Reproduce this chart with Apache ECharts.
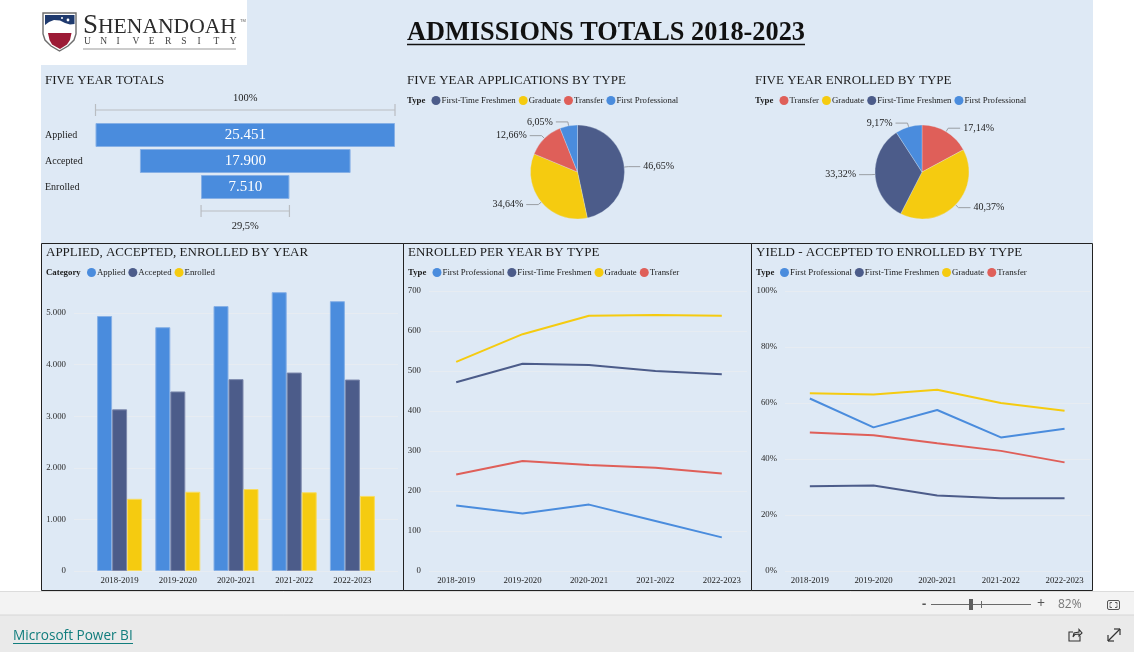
<!DOCTYPE html>
<html><head><meta charset="utf-8">
<style>html,body{margin:0;padding:0;background:#fff;overflow:hidden}#c{width:1134px;height:652px}</style>
<script src="https://cdn.jsdelivr.net/npm/echarts@6/dist/echarts.min.js"></script>
</head><body><div id="c"></div>
<script>
// ---------- data ----------
const years = ['2018-2019','2019-2020','2020-2021','2021-2022','2022-2023'];
const funnelCategories = ['', 'Applied', 'Accepted', 'Enrolled', ' '];
const funnelValues = [25451, 17900, 7510];

const appliedTypeNames = ['First-Time Freshmen','Graduate','Transfer','First Professional'];
const appliedTypeShares = [46.65, 34.64, 12.66, 6.05];
const enrolledTypeNames = ['Transfer','Graduate','First-Time Freshmen','First Professional'];
const enrolledTypeShares = [17.14, 40.37, 33.32, 9.17];

const applied  = [4945, 4728, 5138, 5407, 5233];
const accepted = [3135, 3482, 3721, 3849, 3713];
const enrolled = [1400, 1537, 1590, 1527, 1456];

const enrGraduate = [523, 592, 638, 640, 638];
const enrFreshmen = [472, 518, 515, 500, 492];
const enrTransfer = [241, 275, 265, 258, 244];
const enrProfessional = [164, 144, 166, 125, 84];

const yieldGraduate = [63.5, 63.0, 64.7, 60.0, 57.2];
const yieldProfessional = [61.6, 51.3, 57.5, 47.7, 50.8];
const yieldTransfer = [49.5, 48.5, 45.6, 42.9, 38.8];
const yieldFreshmen = [30.3, 30.5, 27.0, 26.0, 26.0];

// ---------- style ----------
const SERIF = '"Liberation Serif","Times New Roman",serif';
const C = {'First Professional':'#4A8CDD','First-Time Freshmen':'#4C5C8A','Graduate':'#F5CB10','Transfer':'#DF5F59',
           'Applied':'#4A8CDD','Accepted':'#4C5C8A','Enrolled':'#F5CB10'};
const PANEL = '#DEE9F5', GRID = '#E7ECF2', INK = '#1c1c1c';
const fmtThousand = v => String(v).replace(/\B(?=(\d{3})+$)/g, '.');
const fmtPct = v => v.toFixed(2).replace('.', ',') + '%';

const grids = [], xAxes = [], yAxes = [], series = [], legends = [];

function addGrid(g, x, y){
  grids.push(g); x.gridIndex = grids.length-1; y.gridIndex = grids.length-1;
  xAxes.push(x); yAxes.push(y); return grids.length-1;
}
function chartAxes(gridLeft, gridRight, catLeft, catRight, max, interval, fmt, yName){
  addGrid({left:gridLeft, width:gridRight-gridLeft, top:291, height:280},
    {type:'value', min:0, max:1, show:false},
    {type:'value', min:0, max:max, interval:interval, axisLine:{show:false}, axisTick:{show:false},
     axisLabel:{color:'#2a2a2a', fontFamily:SERIF, fontSize:8.8, margin:8, padding:[2,0,0,0], formatter:fmt, showMaxLabel: yName!=='bars'},
     splitLine:{show:true, lineStyle:{color:GRID, width:1}, showMaxLine: yName!=='bars'}});
  return addGrid({left:catLeft, width:catRight-catLeft, top:291, height:280},
    {type:'category', data:years, axisLine:{show:false}, axisTick:{show:false},
     axisLabel:{color:'#1c1c1c', fontFamily:SERIF, fontSize:8.8, margin:5, interval:0}},
    {type:'value', min:0, max:max, show:false, splitLine:{show:false}});
}
function addLine(idx, name, data){
  series.push({type:'line', name, data, xAxisIndex:idx, yAxisIndex:idx, symbol:'none', smooth:false, silent:true,
    lineStyle:{color:C[name], width:2}, itemStyle:{color:C[name]}});
}
function addLegend(left, top, data){
  legends.push({left, top, data, orient:'horizontal', icon:'circle', itemWidth:9, itemHeight:9, itemGap:3, padding:0, selectedMode:false,
    itemStyle:{borderWidth:0},
    textStyle:{color:INK, fontFamily:SERIF, fontSize:8.8, padding:[0,0,0,-4]}});
}

// funnel
const fMax = funnelValues[0];
const funnelIdx = addGrid({left:95.5, width:299.5, top:96, height:130},
  {type:'value', min:0, max:fMax, show:false},
  {type:'category', inverse:true, data:funnelCategories, axisLine:{show:false}, axisTick:{show:false},
   axisLabel:{align:'left', margin:50.5, color:INK, fontFamily:SERIF, fontSize:10, interval:0}});
series.push({type:'bar', stack:'f', silent:true, xAxisIndex:funnelIdx, yAxisIndex:funnelIdx, barWidth:24,
  itemStyle:{color:'transparent'}, data:[null].concat(funnelValues.map(v=>(fMax-v)/2), [null])});
series.push({type:'bar', stack:'f', silent:true, xAxisIndex:funnelIdx, yAxisIndex:funnelIdx, barWidth:24,
  itemStyle:{color:'#4A8CDD', borderColor:'#86B0E6', borderWidth:1},
  label:{show:true, position:'inside', color:'#fff', fontFamily:SERIF, fontSize:15, formatter:p=>fmtThousand(p.value)},
  data:[null].concat(funnelValues, [null])});
const lastV = funnelValues[funnelValues.length-1];
const bracketRows = [
  [0, fMax, 0, '100%', -11.5],
  [(fMax-lastV)/2, (fMax+lastV)/2, 4, (lastV/fMax*100).toFixed(1).replace('.',',')+'%', 15]
];
series.push({type:'custom', silent:true, xAxisIndex:funnelIdx, yAxisIndex:funnelIdx, clip:false, data:bracketRows,
  encode:{x:[0,1], y:2},
  renderItem(params, api){
    const a = api.coord([api.value(0), api.value(2)]), b = api.coord([api.value(1), api.value(2)]);
    const row = bracketRows[params.dataIndex], off = row[4];
    const y = a[1] + (off<0 ? 1 : -2), st = {stroke:'#B9BDC2', lineWidth:1.2};
    return {type:'group', children:[
      {type:'line', shape:{x1:a[0],y1:y,x2:b[0],y2:y}, style:st},
      {type:'line', shape:{x1:a[0],y1:y-6,x2:a[0],y2:y+6}, style:st},
      {type:'line', shape:{x1:b[0],y1:y-6,x2:b[0],y2:y+6}, style:st},
      {type:'text', style:{x:(a[0]+b[0])/2, y:y+off, text:row[3], fill:INK, font:'10.5px '+SERIF, textAlign:'center', textVerticalAlign:'middle'}}
    ]};
  }});

// pies
function addPie(cx, names, vals){
  series.push({type:'pie', center:[cx,172], radius:[0,47], startAngle:90, clockwise:true, silent:true, animation:false,
    data:names.map((n,i)=>({name:n, value:vals[i], itemStyle:{color:C[n]}})),
    itemStyle:{borderColor:'#DEE9F5', borderWidth:0.3},
    label:{show:true, position:'outside', color:INK, fontFamily:SERIF, fontSize:10, distanceToLabelLine:3, formatter:p=>fmtPct(p.value)},
    labelLine:{show:true, length:4, length2:12, lineStyle:{color:'#9a9ea3', width:1}}});
}
addPie(577.5, appliedTypeNames, appliedTypeShares);
addPie(922, enrolledTypeNames, enrolledTypeShares);
addLegend(431.5, 96, appliedTypeNames);
addLegend(779.5, 96, enrolledTypeNames);

// bars
const barIdx = chartAxes(74, 398, 90.5, 381.5, 5430, 1000, v=>fmtThousand(v), 'bars');
[['Applied',applied],['Accepted',accepted],['Enrolled',enrolled]].forEach(([n,d])=>{
  series.push({type:'bar', name:n, data:d, xAxisIndex:barIdx, yAxisIndex:barIdx, barWidth:15, barGap:0, silent:true,
    itemStyle:{color:C[n], borderColor: n==='Applied'?'#86B0E6':n==='Accepted'?'#7C88AC':'#F8DC60', borderWidth:1}});
});
addLegend(87, 268, ['Applied','Accepted','Enrolled']);

// enrolled lines
const midIdx = chartAxes(429, 747, 423, 755, 700, 100, v=>String(v), 'line');
addLine(midIdx,'First Professional',enrProfessional);
addLine(midIdx,'First-Time Freshmen',enrFreshmen);
addLine(midIdx,'Graduate',enrGraduate);
addLine(midIdx,'Transfer',enrTransfer);
addLegend(432.5, 268, ['First Professional','First-Time Freshmen','Graduate','Transfer']);

// yield lines
const yldIdx = chartAxes(785, 1090, 778, 1096.4, 100, 20, v=>v+'%', 'line');
addLine(yldIdx,'First Professional',yieldProfessional);
addLine(yldIdx,'First-Time Freshmen',yieldFreshmen);
addLine(yldIdx,'Graduate',yieldGraduate);
addLine(yldIdx,'Transfer',yieldTransfer);
addLegend(780, 268, ['First Professional','First-Time Freshmen','Graduate','Transfer']);

// titles
const secTitle = (text,left,top)=>({text,left,top,padding:0,textStyle:{color:INK,fontFamily:SERIF,fontWeight:'normal',fontSize:13}});
const titles = [
  {text:'ADMISSIONS TOTALS 2018-2023', left:407, top:20.5, padding:0, textStyle:{color:'#111',fontFamily:SERIF,fontWeight:'bold',fontSize:26.3}},
  secTitle('FIVE YEAR TOTALS',45,74), secTitle('FIVE YEAR APPLICATIONS BY TYPE',407,74), secTitle('FIVE YEAR ENROLLED BY TYPE',755,74),
  secTitle('APPLIED, ACCEPTED, ENROLLED BY YEAR',46,246), secTitle('ENROLLED PER YEAR BY TYPE',408,246), secTitle('YIELD - ACCEPTED TO ENROLLED BY TYPE',756,246)
];

// decoration
const T = (text,x,y,o={})=>({type:'text', z:o.z||50, silent:true, x, y, style:Object.assign({text, fill:INK, font:'8.8px '+SERIF, textVerticalAlign:'middle'},o.style||{})});
const R = (x,y,w,h,fill,z=-10)=>({type:'rect', z, silent:true, shape:{x,y,width:w,height:h}, style:{fill}});
const L = (x1,y1,x2,y2,stroke,lw=1,z=60)=>({type:'line', z, silent:true, shape:{x1,y1,x2,y2}, style:{stroke,lineWidth:lw}});
const P = (points,style,z=50)=>({type:'polygon', z, silent:true, shape:{points}, style});
const PL = (points,style,z=50)=>({type:'polyline', z, silent:true, shape:{points}, style});
const boxes = [[41.5,403.5],[403.5,751.5],[751.5,1092.5]].map(([a,b])=>({type:'rect', z:60, silent:true, shape:{x:a,y:243.5,width:b-a,height:347}, style:{fill:'none',stroke:'#222',lineWidth:1}}));
const universityLetters = 'UNIVERSITY'.split('').map((ch,i)=>T(ch,84+i*16.2,41.5,{style:{font:'9.5px '+SERIF, fill:'#444', textAlign:'left'}}));

const graphicEls = [
  R(41,0,1052,591,PANEL), R(41,0,206,65,'#ffffff',-9),
  R(0,592,1134,23,'#F3F3F3'), R(0,615,1134,37,'#EAEAEA'),
  L(0,591.5,1134,591.5,'#DCDCDC',1,-8), L(0,615,1134,615,'#D6D6D6',1,-8),
  L(407,44.5,805,44.5,'#111',1.6),
  ...boxes,
  // shield
  P([[43,13],[76,13],[76,34],[74,40],[68,46],[59.5,51],[51,46],[45,40],[43,34]],{fill:'#fff',stroke:'#6d6d6d',lineWidth:1.4},50),
  P([[45,15],[74.5,15],[74.5,24],[70,24.5],[65,23],[60,20.5],[54,20],[49,22],[45,25]],{fill:'#1F3A6E'},51),
  P([[48,33],[71.5,33],[70,40],[67,44.5],[60,49],[52,44.5],[49.5,40]],{fill:'#9C1B36'},51),
  {type:'circle', z:52, silent:true, shape:{cx:68,cy:20,r:1.4}, style:{fill:'#fff'}},
  {type:'circle', z:52, silent:true, shape:{cx:62,cy:18,r:1}, style:{fill:'#fff'}},
  T('18',52,36,{style:{font:'4.5px '+SERIF, fill:'#f3e3e3'}}),
  T('75',61,36,{style:{font:'4.5px '+SERIF, fill:'#f3e3e3'}}),
  T('S',83,26,{style:{font:'27px '+SERIF, fill:'#2b2b2b'}}),
  T('HENANDOAH',98,27,{style:{font:'21.6px '+SERIF, fill:'#2b2b2b'}}),
  T('TM',240,21,{style:{font:'4px Arial', fill:'#555'}}),
  ...universityLetters,
  L(83,49,236,49,'#9a9a9a',1.2,50),
  // legend captions
  T('Type',407,100.5,{style:{font:'bold 8.8px '+SERIF}}),
  T('Type',755,100.5,{style:{font:'bold 8.8px '+SERIF}}),
  T('Category',46,272.5,{style:{font:'bold 8.8px '+SERIF}}),
  T('Type',408,272.5,{style:{font:'bold 8.8px '+SERIF}}),
  T('Type',756,272.5,{style:{font:'bold 8.8px '+SERIF}}),
  // zoom strip
  T('-',922,604,{style:{font:'bold 13px "Open Sans"', fill:'#555'}}),
  L(931,604.5,1031,604.5,'#6a6a6a',1,50),
  R(969,599,4,11,'#5f5f5f',51),
  L(981.5,601,981.5,608,'#6a6a6a',1,50),
  T('+',1037,604,{style:{font:'14px "Open Sans"', fill:'#555'}}),
  T('82%',1058,604.5,{style:{font:'12px "Open Sans"', fill:'#777'}}),
  {type:'rect', z:50, silent:true, shape:{x:1107.5,y:600.5,width:12,height:9,r:1.5}, style:{fill:'none',stroke:'#555',lineWidth:1}},
  PL([[1110,604.5],[1110,602.5],[1112,602.5]],{fill:'none',stroke:'#555',lineWidth:0.9}),
  PL([[1115,602.5],[1117,602.5],[1117,604.5]],{fill:'none',stroke:'#555',lineWidth:0.9}),
  PL([[1110,605.5],[1110,607.5],[1112,607.5]],{fill:'none',stroke:'#555',lineWidth:0.9}),
  PL([[1115,607.5],[1117,607.5],[1117,605.5]],{fill:'none',stroke:'#555',lineWidth:0.9}),
  // footer
  T('Microsoft Power BI',13,636,{style:{font:'13.6px "Open Sans"', fill:'#117D7D'}}),
  L(13,643.5,133,643.5,'#117D7D',1,50),
  PL([[1080,636],[1080,641],[1069,641],[1069,632],[1073,632]],{fill:'none',stroke:'#333',lineWidth:1.1}),
  PL([[1073,637],[1074,633],[1079,632],[1079,629.5],[1082,633],[1079,636],[1079,634],[1075,634.5],[1073,637]],{fill:'none',stroke:'#333',lineWidth:1.1}),
  L(1108,641,1120,629,'#333',1.2,50),
  L(1114,629,1120,629,'#333',1.2,50), L(1120,629,1120,635,'#333',1.2,50),
  L(1108,635,1108,641,'#333',1.2,50), L(1108,641,1114,641,'#333',1.2,50)
];

const chart = echarts.init(document.getElementById('c'), null, {renderer:'canvas'});
chart.setOption({
  animation:false, backgroundColor:'transparent', tooltip:{show:false},
  title:titles, legend:legends, grid:grids, xAxis:xAxes, yAxis:yAxes, series,
  graphic:{elements:graphicEls}
});
</script></body></html>
